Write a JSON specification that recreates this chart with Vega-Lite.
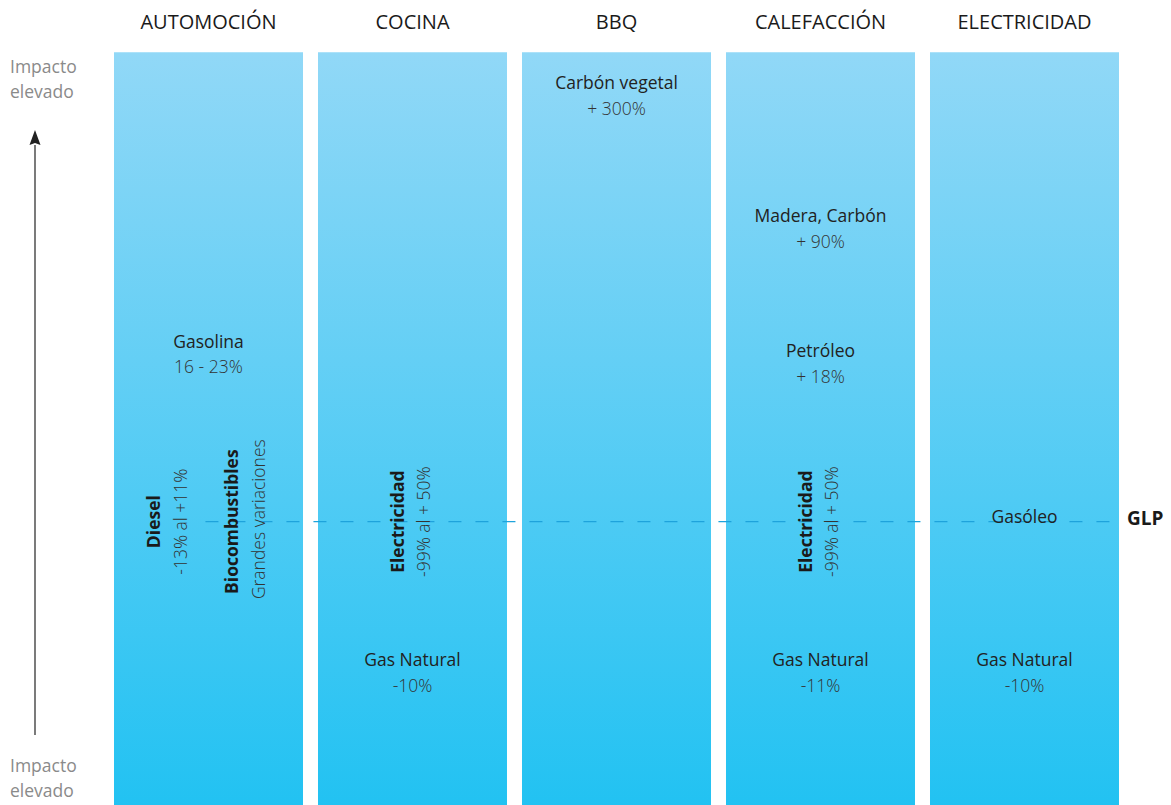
{
  "$schema": "https://vega.github.io/schema/vega-lite/v6.json",
  "width": 1171,
  "height": 805,
  "autosize": {"type": "fit", "contains": "padding"},
  "padding": 0,
  "background": "white",
  "config": {"view": {"stroke": null}, "text": {"font": "Open Sans"}},
  "datasets": {
    "columnas": [
      {"categoria": "AUTOMOCIÓN", "columna": 1, "tope": 93.5},
      {"categoria": "COCINA", "columna": 2, "tope": 93.5},
      {"categoria": "BBQ", "columna": 3, "tope": 93.5},
      {"categoria": "CALEFACCIÓN", "columna": 4, "tope": 93.5},
      {"categoria": "ELECTRICIDAD", "columna": 5, "tope": 93.5}
    ],
    "etiquetas": [
      {"columna": 1, "nivel": 57.39, "texto": "Gasolina", "estilo": "titulo"},
      {"columna": 1, "nivel": 54.29, "texto": "16 - 23%", "estilo": "valor"},
      {"columna": 3, "nivel": 89.57, "texto": "Carbón vegetal", "estilo": "titulo"},
      {"columna": 3, "nivel": 86.34, "texto": "+ 300%", "estilo": "valor"},
      {"columna": 4, "nivel": 73.04, "texto": "Madera, Carbón", "estilo": "titulo"},
      {"columna": 4, "nivel": 69.81, "texto": "+ 90%", "estilo": "valor"},
      {"columna": 4, "nivel": 56.27, "texto": "Petróleo", "estilo": "titulo"},
      {"columna": 4, "nivel": 53.04, "texto": "+ 18%", "estilo": "valor"},
      {"columna": 2, "nivel": 17.89, "texto": "Gas Natural", "estilo": "titulo"},
      {"columna": 2, "nivel": 14.66, "texto": "-10%", "estilo": "valor"},
      {"columna": 4, "nivel": 17.89, "texto": "Gas Natural", "estilo": "titulo"},
      {"columna": 4, "nivel": 14.66, "texto": "-11%", "estilo": "valor"},
      {"columna": 5, "nivel": 17.89, "texto": "Gas Natural", "estilo": "titulo"},
      {"columna": 5, "nivel": 14.66, "texto": "-10%", "estilo": "valor"},
      {"columna": 5, "nivel": 35.65, "texto": "Gasóleo", "estilo": "titulo"},
      {"columna": 0.738, "nivel": 35.2, "texto": "Diesel", "estilo": "titulo_v"},
      {"columna": 0.869, "nivel": 35.2, "texto": "-13% al +11%", "estilo": "valor_v"},
      {"columna": 1.12, "nivel": 35.2, "texto": "Biocombustibles", "estilo": "titulo_v"},
      {"columna": 1.2525, "nivel": 35.5, "texto": "Grandes variaciones", "estilo": "valor_v"},
      {"columna": 1.932, "nivel": 35.2, "texto": "Electricidad", "estilo": "titulo_v"},
      {"columna": 2.0627, "nivel": 35.2, "texto": "-99% al + 50%", "estilo": "valor_v"},
      {"columna": 3.932, "nivel": 35.2, "texto": "Electricidad", "estilo": "titulo_v"},
      {"columna": 4.0627, "nivel": 35.2, "texto": "-99% al + 50%", "estilo": "valor_v"},
      {"columna": 0.027, "nivel": 91.55, "texto": "Impacto", "estilo": "lateral"},
      {"columna": 0.027, "nivel": 88.45, "texto": "elevado", "estilo": "lateral"},
      {"columna": 0.027, "nivel": 4.72, "texto": "Impacto", "estilo": "lateral"},
      {"columna": 0.027, "nivel": 1.61, "texto": "elevado", "estilo": "lateral"},
      {"columna": 5.5025, "nivel": 35.5, "texto": "GLP", "estilo": "glp"}
    ],
    "glp": [{"desde": 0.985, "hasta": 5.463, "nivel": 35.2}],
    "flecha": [{"columna": 0.1495, "desde": 8.7, "hasta": 82.0, "punta": 82.6}]
  },
  "layer": [
    {
      "data": {"name": "columnas"},
      "mark": {
        "type": "bar",
        "orient": "vertical",
        "width": 189,
        "fill": {
          "gradient": "linear",
          "x1": 0, "y1": 0, "x2": 0, "y2": 1,
          "stops": [
            {"offset": 0, "color": "#91d8f7"},
            {"offset": 1, "color": "#22c2f2"}
          ]
        }
      },
      "encoding": {
        "x": {"field": "columna", "type": "quantitative", "scale": {"domain": [-0.02206, 5.71814], "nice": false, "zero": false, "padding": 0}, "axis": null},
        "y": {"field": "tope", "type": "quantitative", "scale": {"domain": [0, 100], "nice": false, "zero": false, "padding": 0}, "axis": null},
        "y2": {"datum": 0}
      }
    },
    {
      "data": {"name": "columnas"},
      "mark": {"type": "text", "fontSize": 20, "color": "#1a1a1a", "align": "center", "baseline": "middle"},
      "encoding": {
        "x": {"field": "columna", "type": "quantitative"},
        "y": {"datum": 97.14},
        "text": {"field": "categoria"}
      }
    },
    {
      "data": {"name": "glp"},
      "mark": {"type": "rule", "color": "#1ea3dc", "strokeWidth": 1.2, "strokeDash": [13, 14]},
      "encoding": {
        "x": {"field": "desde", "type": "quantitative"},
        "x2": {"field": "hasta"},
        "y": {"field": "nivel", "type": "quantitative"}
      }
    },
    {
      "data": {"name": "flecha"},
      "mark": {"type": "rule", "color": "#333333", "strokeWidth": 1.3},
      "encoding": {
        "x": {"field": "columna", "type": "quantitative"},
        "y": {"field": "desde", "type": "quantitative"},
        "y2": {"field": "hasta"}
      }
    },
    {
      "data": {"name": "flecha"},
      "mark": {"type": "point", "shape": "M0,-1L0.55,0.5L0,0.3L-0.55,0.5Z", "filled": true, "color": "#222222", "size": 400, "opacity": 1},
      "encoding": {
        "x": {"field": "columna", "type": "quantitative"},
        "y": {"field": "punta", "type": "quantitative"}
      }
    },
    {
      "data": {"name": "etiquetas"},
      "transform": [{"filter": "datum.estilo === 'titulo'"}],
      "mark": {"type": "text", "fontSize": 17.5, "fontWeight": 500, "color": "#222222", "align": "center", "baseline": "middle"},
      "encoding": {
        "x": {"field": "columna", "type": "quantitative"},
        "y": {"field": "nivel", "type": "quantitative"},
        "text": {"field": "texto"}
      }
    },
    {
      "data": {"name": "etiquetas"},
      "transform": [{"filter": "datum.estilo === 'valor'"}],
      "mark": {"type": "text", "fontSize": 17.5, "fontWeight": 300, "color": "#333333", "align": "center", "baseline": "middle"},
      "encoding": {
        "x": {"field": "columna", "type": "quantitative"},
        "y": {"field": "nivel", "type": "quantitative"},
        "text": {"field": "texto"}
      }
    },
    {
      "data": {"name": "etiquetas"},
      "transform": [{"filter": "datum.estilo === 'titulo_v'"}],
      "mark": {"type": "text", "fontSize": 17.5, "fontWeight": "bold", "color": "#1a1a1a", "align": "center", "baseline": "middle", "angle": 270},
      "encoding": {
        "x": {"field": "columna", "type": "quantitative"},
        "y": {"field": "nivel", "type": "quantitative"},
        "text": {"field": "texto"}
      }
    },
    {
      "data": {"name": "etiquetas"},
      "transform": [{"filter": "datum.estilo === 'valor_v'"}],
      "mark": {"type": "text", "fontSize": 17.5, "fontWeight": 300, "color": "#333333", "align": "center", "baseline": "middle", "angle": 270},
      "encoding": {
        "x": {"field": "columna", "type": "quantitative"},
        "y": {"field": "nivel", "type": "quantitative"},
        "text": {"field": "texto"}
      }
    },
    {
      "data": {"name": "etiquetas"},
      "transform": [{"filter": "datum.estilo === 'lateral'"}],
      "mark": {"type": "text", "fontSize": 17.5, "color": "#8a8a8a", "align": "left", "baseline": "middle"},
      "encoding": {
        "x": {"field": "columna", "type": "quantitative"},
        "y": {"field": "nivel", "type": "quantitative"},
        "text": {"field": "texto"}
      }
    },
    {
      "data": {"name": "etiquetas"},
      "transform": [{"filter": "datum.estilo === 'glp'"}],
      "mark": {"type": "text", "fontSize": 19, "fontWeight": "bold", "color": "#1a1a1a", "align": "left", "baseline": "middle"},
      "encoding": {
        "x": {"field": "columna", "type": "quantitative"},
        "y": {"field": "nivel", "type": "quantitative"},
        "text": {"field": "texto"}
      }
    }
  ]
}
